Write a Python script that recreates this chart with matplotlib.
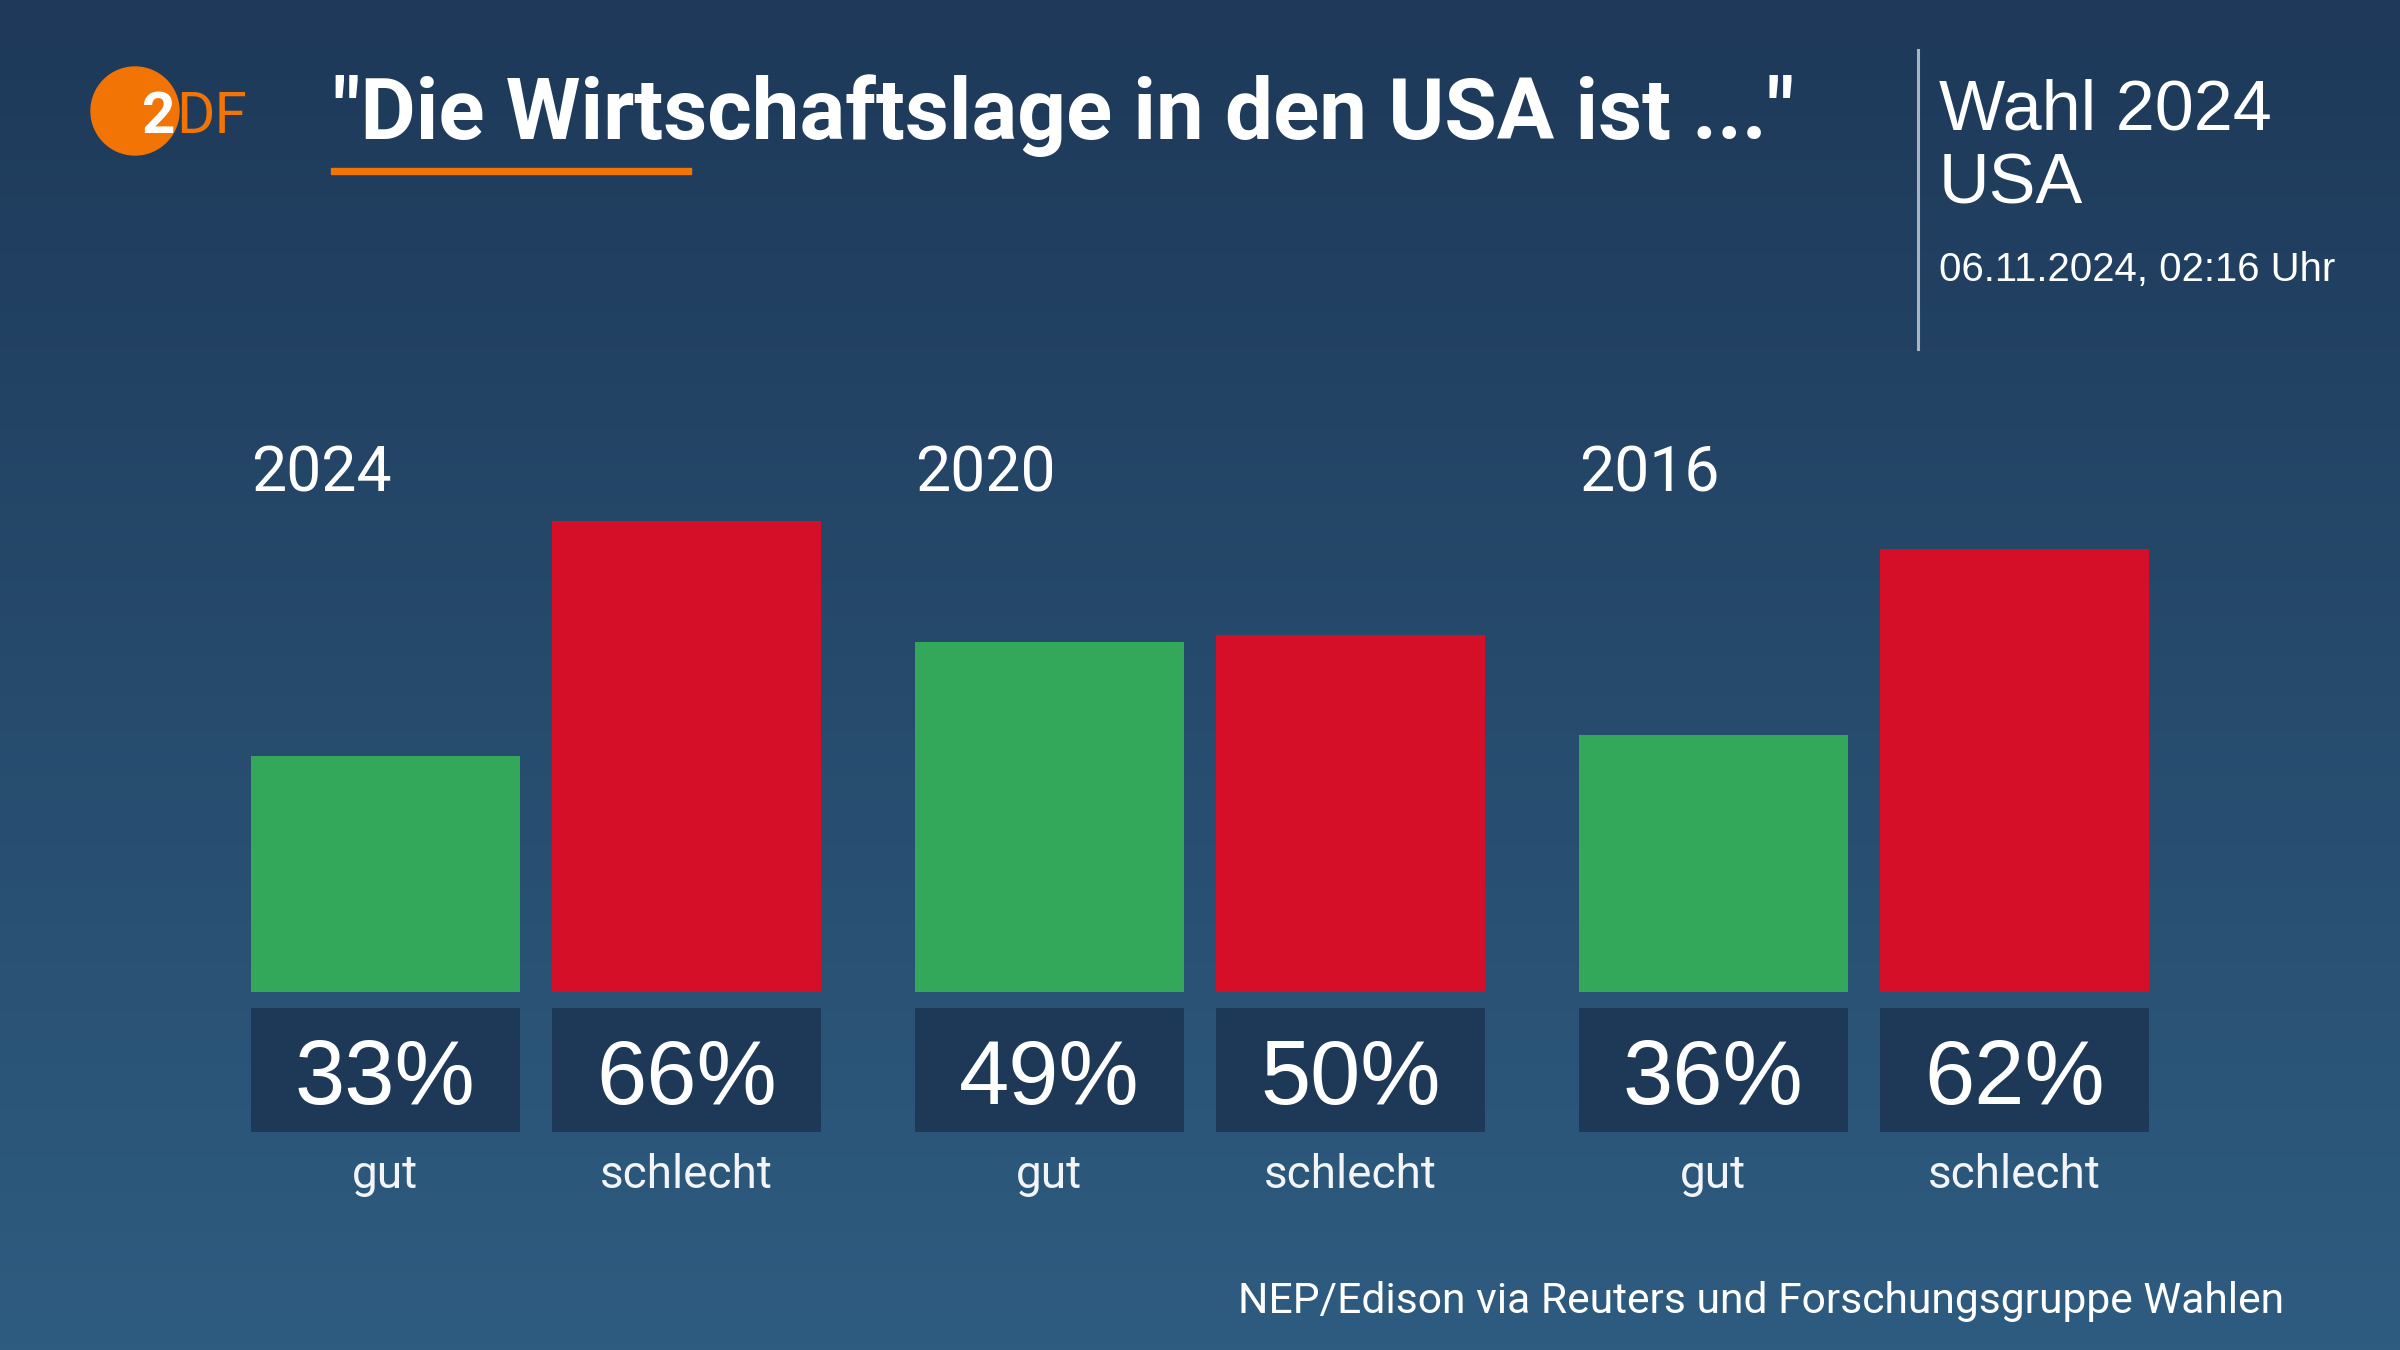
import matplotlib
matplotlib.use("Agg")
import matplotlib.pyplot as plt
import numpy as np
from matplotlib.colors import LinearSegmentedColormap
from matplotlib.patches import Ellipse, Rectangle
from matplotlib.lines import Line2D

# data
years = ["2024", "2020", "2016"]
categories = ["gut", "schlecht"]
gut = [33, 49, 36]
schlecht = [66, 50, 62]

title = '"Die Wirtschaftslage in den USA ist ..."'
side_title = ["Wahl 2024", "USA"]
timestamp = "06.11.2024, 02:16 Uhr"
source = "NEP/Edison via Reuters und Forschungsgruppe Wahlen"

GREEN = "#34a85a"
RED = "#d50f27"
BOX = "#1e3957"
ORANGE = "#f27405"
WHITE = "#ffffff"

W, H = 2400, 1350
WIDE = ["Liberation Sans", "DejaVu Sans"]
NARROW = ["Roboto", "DejaVu Sans"]


def fx(px):
    return px / W


def fy(py):
    return 1 - py / H


fig = plt.figure(figsize=(24, 13.5), dpi=100)

# background gradient
bg = fig.add_axes([0, 0, 1, 1], zorder=0)
grad = np.linspace(0, 1, 256)[:, None]
cmap = LinearSegmentedColormap.from_list("bg", ["#1e3959", "#2e5c80"])
bg.imshow(grad, aspect="auto", cmap=cmap, extent=[0, 1, 0, 1])
bg.axis("off")

# bar axes spans the whole figure, scaled so 1% = ~7.14 px
ax = fig.add_axes([0, 0, 1, 1], zorder=1)
ax.patch.set_alpha(0)
px_per_pct = 7.143
base_px = 992
ax.set_ylim(-(H - base_px) / px_per_pct, base_px / px_per_pct)
unit, center0 = 664, 536
ax.set_xlim(-center0 / unit, (W - center0) / unit)
ax.axis("off")

x = np.arange(len(years))
off, w = 0.227, 0.405
ax.bar(x - off, gut, w, color=GREEN)
ax.bar(x + off, schlecht, w, color=RED)

# value boxes under the bars
box_top, box_bot = -16 / px_per_pct, -140 / px_per_pct
for pos in (x - off, x + off):
    ax.bar(pos, box_top - box_bot, w, bottom=box_bot, color=BOX)

for i, yr in enumerate(years):
    ax.text(i - off - w / 2, 70.1, yr, ha="left", va="baseline",
            color=WHITE, fontsize=45, family=NARROW)
    for pos, val, cat in ((i - off, gut[i], categories[0]),
                          (i + off, schlecht[i], categories[1])):
        ax.text(pos, -15.7, f"{val}%", ha="center", va="baseline",
                color=WHITE, fontsize=65, family=WIDE)
        ax.text(pos, -27.5, cat, ha="center", va="baseline",
                color="#f2f4f7", fontsize=33, family=NARROW)

# header: logo
fig.add_artist(Ellipse((fx(135), fy(111)), 88 / W, 88 / H, color=ORANGE,
                       transform=fig.transFigure))
fig.text(fx(142), fy(133), "2", color=WHITE, fontsize=42, fontweight="bold",
         family=NARROW, va="baseline")
fig.text(fx(176), fy(133), "DF", color=ORANGE, fontsize=42,
         family=NARROW, va="baseline")

fig.text(fx(333), fy(139), title, color=WHITE, fontsize=61.5,
         fontweight="bold", family=NARROW, va="baseline")
fig.add_artist(Rectangle((fx(331), fy(174)), fx(691) - fx(331), 6 / H,
                         color=ORANGE, transform=fig.transFigure))

fig.add_artist(Line2D([fx(1918), fx(1918)], [fy(50), fy(349)],
                      color="#a7b4c2", linewidth=2.2, transform=fig.transFigure))
fig.text(fx(1939), fy(129), side_title[0], color=WHITE, fontsize=50.5,
         family=WIDE, va="baseline")
fig.text(fx(1939), fy(204), side_title[1], color=WHITE, fontsize=50.5,
         family=WIDE, va="baseline")
fig.text(fx(1939), fy(281), timestamp, color=WHITE, fontsize=28.9,
         family=WIDE, va="baseline")

fig.text(fx(2284), fy(1313), source, color=WHITE, fontsize=30.7,
         family=NARROW, ha="right", va="baseline")

fig.savefig("out.png", dpi=100)
